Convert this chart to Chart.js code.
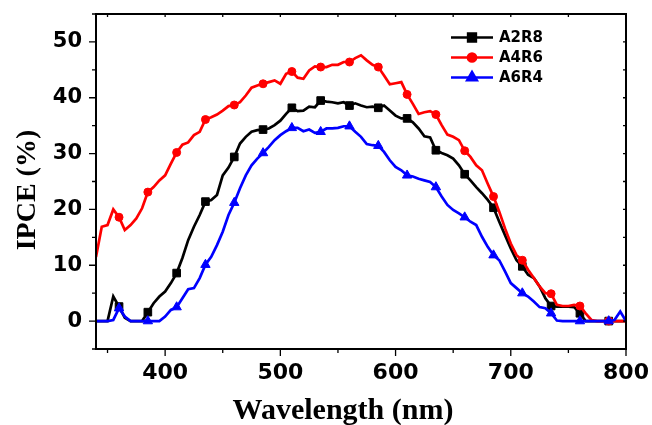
<!DOCTYPE html>
<html><head><meta charset="utf-8">
<style>html,body{margin:0;padding:0;background:#fff;overflow:hidden}</style>
<script src="https://cdn.jsdelivr.net/npm/chart.js@4.4.0/dist/chart.umd.min.js"></script>
</head><body>
<canvas id="c" width="652" height="425" style="width:652px;height:425px;display:block"></canvas>
<script>
const wavelengths = [340,345,350,355,360,365,370,375,380,385,390,395,400,405,410,415,420,425,430,435,440,445,450,455,460,465,470,475,480,485,490,495,500,505,510,515,520,525,530,535,540,545,550,555,560,565,570,575,580,585,590,595,600,605,610,615,620,625,630,635,640,645,650,655,660,665,670,675,680,685,690,695,700,705,710,715,720,725,730,735,740,745,750,755,760,765,770,775,780,785,790,795,800];
const seriesNames = ['A2R8','A4R6','A6R4'];
const a2r8 = [0,0,0,4.4,2.6,0.6,0,0,0,1.6,3.2,4.4,5.3,6.8,8.6,11.3,14.5,16.9,19.0,21.4,21.7,22.6,26.1,27.5,29.4,31.8,33.0,33.9,34.2,34.3,34.5,35.1,35.9,37.1,38.2,37.6,37.7,38.4,38.3,39.5,39.3,39.2,39.0,39.2,38.6,39.0,38.6,38.3,38.4,38.2,38.6,37.7,36.8,36.3,36.3,35.6,34.5,33.1,32.9,30.6,30.1,29.7,29.1,27.9,26.3,25.2,24.0,22.9,21.7,20.3,17.8,15.4,13.0,10.9,9.8,8.3,7.7,6.2,4.1,2.7,2.6,2.6,2.6,2.5,1.4,0,0,0,0,0,0,0,0];
const a4r6 = [11.5,16.9,17.2,20.0,18.6,16.3,17.2,18.4,20.2,23.1,24.0,25.2,26.1,28.2,30.2,31.6,32.0,33.3,33.9,36.1,36.5,37.0,37.7,38.5,38.7,39.2,40.4,41.8,42.2,42.5,42.8,43.1,42.5,44.3,44.7,43.6,43.4,44.9,45.6,45.5,45.5,45.9,45.9,46.4,46.4,47.1,47.6,46.7,45.9,45.5,44.0,42.4,42.6,42.8,40.6,38.9,37.1,37.4,37.6,37.0,35.1,33.4,33.0,32.4,30.5,29.4,27.9,27.0,24.6,22.3,19.6,16.6,13.9,11.8,10.9,9.2,7.7,6.2,5.0,4.9,2.9,2.7,2.7,2.9,2.7,1.4,0.2,0,0,0,0,0,0];
const a6r4 = [0,0,0,0.2,2.3,0.8,0,0,0,0,0,0,0.8,2.0,2.5,4.1,5.7,5.9,7.7,10.1,11.5,13.6,16.0,19.0,21.2,23.8,26.1,27.9,29.1,30.1,31.2,32.4,33.3,34.0,34.6,34.6,34.0,34.3,33.7,33.9,34.5,34.5,34.6,34.9,34.9,33.9,33.0,31.7,31.5,31.4,30.3,28.8,27.6,27.0,26.1,25.9,25.5,25.2,24.9,24.0,22.3,20.8,19.9,19.3,18.6,17.8,17.2,15.1,13.3,11.8,10.9,8.9,6.8,5.9,5.0,4.4,3.5,2.5,2.3,1.4,0.1,0,0,0,0,0,0,0,0,0,0.2,1.7,0];
const markerWavelengths = [360,385,410,435,460,485,510,535,560,585,610,635,660,685,710,735,760,785];
const xMajorTicks = [400,500,600,700,800];
const xMinorTicks = [350,450,550,650,750];
const yMajorTicks = [0,10,20,30,40,50];
const yMinorTicks = [-5,5,15,25,35,45,55];
const xTitle = 'Wavelength (nm)';
const yTitle = 'IPCE (%)';

const colors = ['#000000','#ff0000','#0000ff'];
const styles = ['rect','circle','triangle'];
const radii = [5.4,4.0,5.4];
const drawOrder = [3,2,1];
const allSeries = [a2r8,a4r6,a6r4];

const datasets = allSeries.map((vals, i) => ({
  label: seriesNames[i],
  data: wavelengths.map((w, k) => ({x: w, y: vals[k]})),
  borderColor: colors[i],
  backgroundColor: colors[i],
  pointBackgroundColor: colors[i],
  pointBorderColor: colors[i],
  pointBorderWidth: 1,
  pointStyle: styles[i],
  pointRadius: ctx => (ctx.raw && markerWavelengths.includes(ctx.raw.x)) ? radii[i] : 0,
  borderWidth: 2.7,
  tension: 0,
  fill: false,
  order: drawOrder[i]
}));

const decor = {
  id: 'decor',
  afterDatasetsDraw(chart) {
    const {ctx, chartArea: a, scales: {x, y}} = chart;
    ctx.save();
    ctx.strokeStyle = '#000';
    ctx.lineWidth = 1.3;
    ctx.beginPath();
    xMajorTicks.forEach(v => { const p = x.getPixelForValue(v); ctx.moveTo(p, a.bottom); ctx.lineTo(p, a.bottom + 7); ctx.moveTo(p, a.top); ctx.lineTo(p, a.top + 3); });
    xMinorTicks.forEach(v => { const p = x.getPixelForValue(v); ctx.moveTo(p, a.bottom); ctx.lineTo(p, a.bottom + 4); ctx.moveTo(p, a.top); ctx.lineTo(p, a.top + 3); });
    yMajorTicks.forEach(v => { const p = y.getPixelForValue(v); ctx.moveTo(a.left, p); ctx.lineTo(a.left - 7, p); ctx.moveTo(a.right, p); ctx.lineTo(a.right - 3, p); });
    yMinorTicks.forEach(v => { const p = y.getPixelForValue(v); ctx.moveTo(a.left, p); ctx.lineTo(a.left - 4, p); ctx.moveTo(a.right, p); ctx.lineTo(a.right - 3, p); });
    ctx.stroke();
    ctx.lineWidth = 2;
    ctx.strokeRect(a.left, a.top, a.right - a.left, a.bottom - a.top);
    ctx.restore();
  },
  afterDraw(chart) {
    const {ctx} = chart;
    ctx.save();
    chart.data.datasets.forEach((ds, i) => {
      const yy = 37.5 + 20 * i;
      ctx.strokeStyle = ds.borderColor;
      ctx.lineWidth = 2.7;
      ctx.beginPath(); ctx.moveTo(451, yy); ctx.lineTo(493, yy); ctx.stroke();
      ctx.fillStyle = ds.borderColor;
      Chart.helpers.drawPoint(ctx, {pointStyle: ds.pointStyle, radius: radii[i], rotation: 0, borderWidth: 1}, 472, yy);
      ctx.fill();
      ctx.fillStyle = '#000';
      ctx.font = "bold 15px 'DejaVu Sans'";
      ctx.textAlign = 'left';
      ctx.textBaseline = 'middle';
      ctx.fillText(ds.label, 499, yy + 1);
    });
    ctx.fillStyle = '#000';
    ctx.font = "bold 30px 'Liberation Serif'";
    ctx.textAlign = 'center';
    ctx.textBaseline = 'alphabetic';
    ctx.fillText(xTitle, 343, 419);
    ctx.font = "bold 28px 'Liberation Serif'";
    ctx.translate(35, 190);
    ctx.rotate(-Math.PI / 2);
    ctx.fillText(yTitle, 0, 0);
    ctx.restore();
  }
};

new Chart(document.getElementById('c'), {
  type: 'line',
  data: {datasets},
  options: {
    responsive: false,
    animation: false,
    events: [],
    layout: {padding: {left: 0, right: 26, top: 14, bottom: 0}},
    plugins: {legend: {display: false}, tooltip: {enabled: false}},
    scales: {
      x: {
        type: 'linear', min: 340, max: 800,
        afterBuildTicks: s => { s.ticks = xMajorTicks.map(v => ({value: v})); },
        afterFit: s => { s.height = 76; },
        grid: {display: false, drawTicks: true, tickLength: 11},
        border: {display: false},
        ticks: {autoSkip: false, maxRotation: 0, padding: 0, color: '#000', font: {family: 'DejaVu Sans', size: 22, weight: 'bold'}}
      },
      y: {
        type: 'linear', min: -5, max: 55,
        afterBuildTicks: s => { s.ticks = yMajorTicks.map(v => ({value: v})); },
        afterFit: s => { s.width = 96; },
        grid: {display: false, drawTicks: true, tickLength: 14},
        border: {display: false},
        ticks: {autoSkip: false, padding: 0, color: '#000', font: {family: 'DejaVu Sans', size: 21, weight: 'bold'}}
      }
    }
  },
  plugins: [decor]
});
</script>
</body></html>
